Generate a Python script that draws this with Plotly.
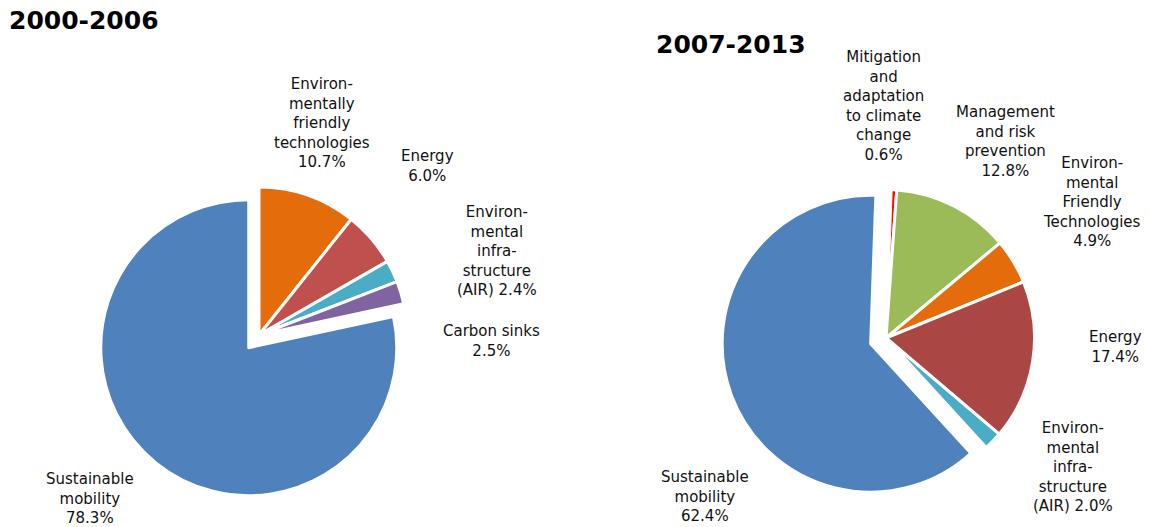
import plotly.graph_objects as go

W, H = 1149, 527

# ---- data ----
titles = ["2000-2006", "2007-2013"]

labels_0006 = ["Environ-<br>mentally<br>friendly<br>technologies", "Energy",
               "Environ-<br>mental<br>infra-<br>structure<br>(AIR)", "Carbon sinks",
               "Sustainable<br>mobility"]
values_0006 = [10.7, 6.0, 2.4, 2.5, 78.3]

labels_0713 = ["Mitigation<br>and<br>adaptation<br>to climate<br>change",
               "Management<br>and risk<br>prevention",
               "Environ-<br>mental<br>Friendly<br>Technologies", "Energy",
               "Environ-<br>mental<br>infra-<br>structure<br>(AIR)",
               "Sustainable<br>mobility"]
values_0713 = [0.6, 12.8, 4.9, 17.4, 2.0, 62.4]

# ---- styles / layout ----
colors_0006 = ["#E46C0A", "#C0504D", "#4BACC6", "#8064A2", "#4F81BD"]
colors_0713 = ["#FF0000", "#9BBB59", "#E46C0A", "#AA4643", "#4BACC6", "#4F81BD"]
pull_0006 = [0, 0, 0, 0, 0.11]
pull_0713 = [0, 0, 0, 0, 0, 0.11]

# label centres in pixels
pos_0006 = [(322, 123), (427, 166), (497, 251), (492, 341), (90, 498)]
pos_0713 = [(883, 106), (1005, 141), (1092, 202), (1115, 347), (1073, 467), (705, 496)]
title_pos = [(7, 21), (654, 44)]


def domain(cx, cy, r, maxpull):
    size = r * (2 + 2 * maxpull)
    xc, yc = cx / W, 1 - cy / H
    hx, hy = (size / W) / 2, (size / H) / 2
    return dict(x=[xc - hx * 1.2, xc + hx * 1.2], y=[yc - hy, yc + hy])


fig = go.Figure()
fig.add_trace(go.Pie(
    labels=[l.replace("<br>", " ") for l in labels_0006], values=values_0006,
    sort=False, direction="clockwise", rotation=0,
    marker=dict(colors=colors_0006, line=dict(color="white", width=3)),
    pull=pull_0006, textinfo="none", hoverinfo="label+percent",
    domain=domain(259, 335, 148, max(pull_0006)), showlegend=False,
))
fig.add_trace(go.Pie(
    labels=[l.replace("<br>", " ") for l in labels_0713], values=values_0713,
    sort=False, direction="clockwise", rotation=2,
    marker=dict(colors=colors_0713, line=dict(color="white", width=3)),
    pull=pull_0713, textinfo="none", hoverinfo="label+percent",
    domain=domain(886, 338, 148.5, max(pull_0713)), showlegend=False,
))

annotations = []
font = dict(family="DejaVu Sans, Verdana, sans-serif", size=15, color="#111111")
for labels, values, positions in [(labels_0006, values_0006, pos_0006),
                                  (labels_0713, values_0713, pos_0713)]:
    for lab, val, (px, py) in zip(labels, values, positions):
        sep = " " if lab.endswith("(AIR)") else "<br>"
        annotations.append(dict(
            text=f"{lab}{sep}{val:.1f}%", x=px / W, y=1 - py / H,
            xref="paper", yref="paper", xanchor="center", yanchor="middle",
            showarrow=False, font=font, align="center"))

for t, (px, py) in zip(titles, title_pos):
    annotations.append(dict(
        text=f"<b>{t}</b>", x=px / W, y=1 - py / H, xref="paper", yref="paper",
        xanchor="left", yanchor="middle", showarrow=False,
        font=dict(family="DejaVu Sans, Verdana, sans-serif", size=25, color="#000000")))

fig.update_layout(
    width=W, height=H, margin=dict(l=0, r=0, t=0, b=0),
    paper_bgcolor="white", plot_bgcolor="white",
    annotations=annotations,
)

fig.write_html("out.html")
